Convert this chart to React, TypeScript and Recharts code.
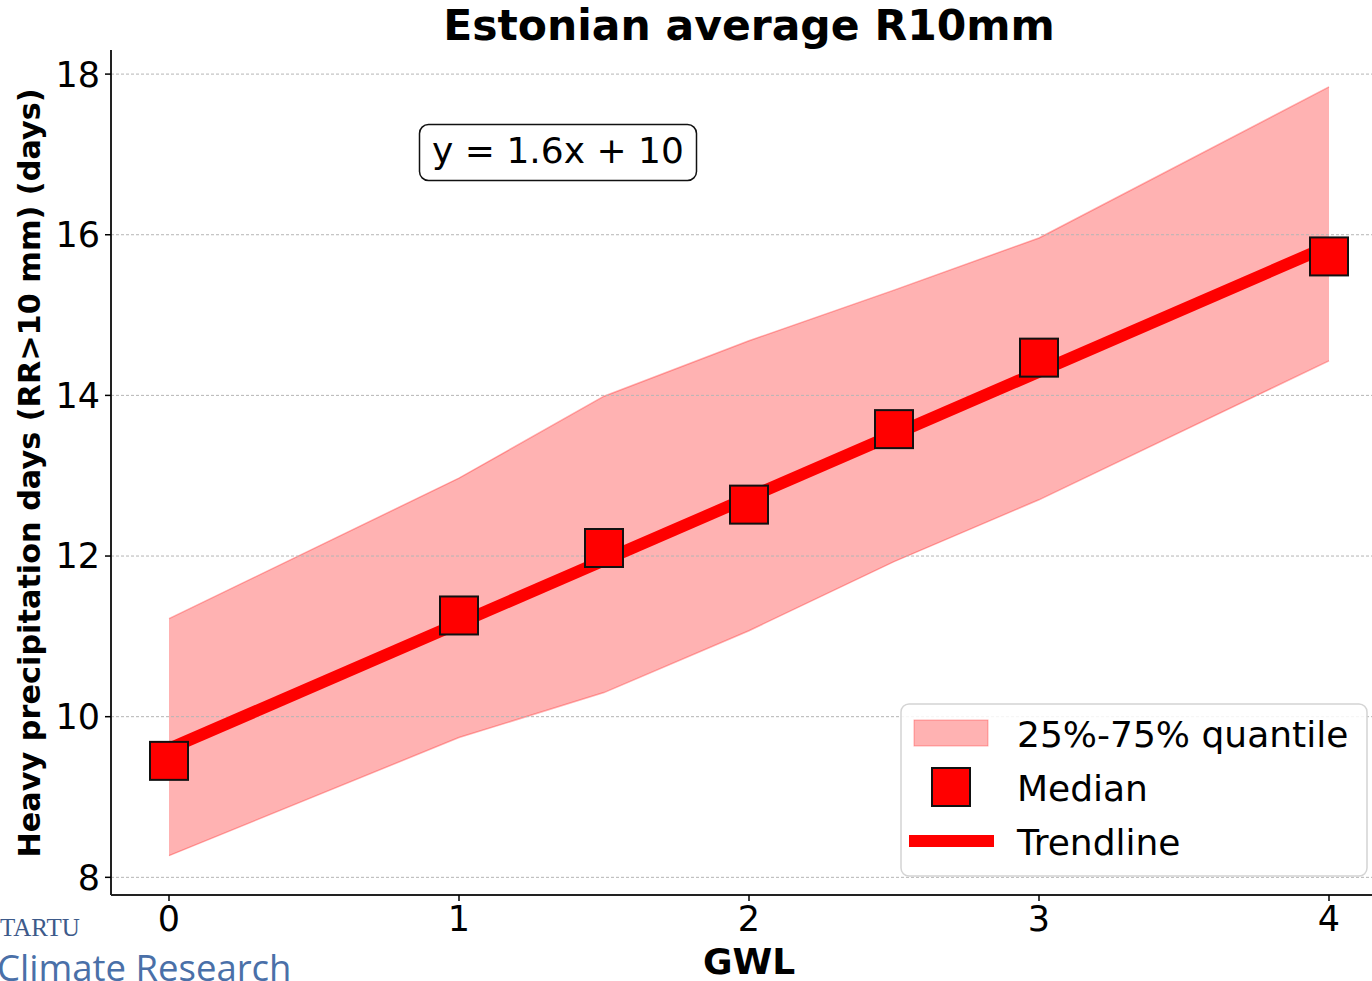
import { ComposedChart, Area, Line, XAxis, YAxis, ReferenceLine, Legend } from "recharts";

const gwl = [0, 1, 1.5, 2, 2.5, 3, 4];
const median = [9.45, 11.26, 12.1, 12.64, 13.58, 14.47, 15.73];
const q25 = [8.27, 9.74, 10.3, 11.07, 11.93, 12.7, 14.43];
const q75 = [11.22, 12.97, 13.99, 14.68, 15.31, 15.96, 17.84];
// trendline read at its two ends
const trend = [9.6, null, null, null, null, null, 15.86];

const xTicks = [0, 1, 2, 3, 4];
const yTicks = [8, 10, 12, 14, 16, 18];
const legendLabels = ["25%-75% quantile", "Median", "Trendline"];

const rows = gwl.map((x, i) => ({
  x,
  band: [q25[i], q75[i]],
  median: median[i],
  trend: trend[i],
}));

const FONT = "'DejaVu Sans', sans-serif";
const RED = "#ff0000";

function Square(props: any) {
  const { cx, cy, index } = props;
  if (cx == null || cy == null) return <g key={`sq-${index}`} />;
  return (
    <rect key={`sq-${index}`} x={cx - 19} y={cy - 19} width={38} height={38} fill={RED} stroke="#111" strokeWidth={2} />
  );
}

function LegendBox() {
  return (
    <svg width={468} height={174} style={{ display: "block", fontFamily: FONT }}>
      <rect x={1} y={1} width={466} height={172} rx={8} fill="#fff" fillOpacity={0.85} stroke="#d4d4d4" strokeWidth={1.5} />
      <rect x={14} y={17} width={74} height={26} fill={RED} fillOpacity={0.3} stroke={RED} strokeOpacity={0.3} />
      <rect x={32} y={65} width={38} height={38} fill={RED} stroke="#111" strokeWidth={2} />
      <line x1={9} x2={94} y1={138} y2={138} stroke={RED} strokeWidth={12} />
      {legendLabels.map((t, i) => (
        <text key={t} x={117} y={44 + i * 54} fontSize={36} fill="#000">
          {t}
        </text>
      ))}
    </svg>
  );
}

export default function App() {
  return (
    <div style={{ position: "relative", width: 1372, height: 981, overflow: "hidden", fontFamily: FONT, background: "#fff" }}>
      <style>{`body{margin:0;overflow:hidden}`}</style>
      <ComposedChart width={1400} height={981} data={rows} margin={{ top: 50, right: 13, bottom: 0, left: 0 }}>
        <XAxis
          dataKey="x"
          type="number"
          domain={[-0.2, 4.2]}
          ticks={xTicks}
          allowDataOverflow
          height={86}
          tickSize={6}
          tickMargin={5}
          tick={{ fill: "#000", fontSize: 35, fontFamily: FONT }}
          tickLine={{ stroke: "#000", strokeWidth: 1.5 }}
          axisLine={{ stroke: "#222", strokeWidth: 2 }}
        />
        <XAxis xAxisId="top" orientation="top" type="number" dataKey="x" domain={[-0.2, 4.2]} height={0} tick={false} tickLine={false} axisLine={{ stroke: "#222", strokeWidth: 2 }} />
        <YAxis
          type="number"
          domain={[7.78, 18.3]}
          ticks={yTicks}
          allowDataOverflow
          width={111}
          tickSize={6}
          tickMargin={5}
          tick={{ fill: "#000", fontSize: 35, fontFamily: FONT }}
          tickLine={{ stroke: "#000", strokeWidth: 1.5 }}
          axisLine={{ stroke: "#222", strokeWidth: 2 }}
        />
        <Area
          type="linear"
          dataKey="band"
          fill={RED}
          fillOpacity={0.3}
          stroke={RED}
          strokeOpacity={0.3}
          strokeWidth={1.5}
          isAnimationActive={false}
        />
        {yTicks.map((v) => (
          <ReferenceLine key={v} y={v} stroke="#b5b5b5" strokeDasharray="3 2" strokeWidth={1} />
        ))}
        <Line type="linear" dataKey="trend" connectNulls stroke={RED} strokeWidth={12} dot={false} activeDot={false} isAnimationActive={false} />
        <Line type="linear" dataKey="median" stroke="none" dot={Square} activeDot={false} isAnimationActive={false} />
        <Legend
          layout="vertical"
          align="center"
          verticalAlign="middle"
          content={() => <LegendBox />}
          wrapperStyle={{ left: 900, top: 703, width: 468, height: 174, bottom: "auto", right: "auto" }}
        />
      </ComposedChart>
      <svg width={1372} height={981} style={{ position: "absolute", left: 0, top: 0, pointerEvents: "none" }}>
        <text x={749} y={40} textAnchor="middle" fontSize={42.5} fontWeight="bold" fontFamily={FONT} fill="#000">
          Estonian average R10mm
        </text>
        <text x={749} y={974} textAnchor="middle" fontSize={36} fontWeight="bold" fontFamily={FONT} fill="#000">
          GWL
        </text>
        <text transform="translate(40,473) rotate(-90)" textAnchor="middle" fontSize={30.3} fontWeight="bold" fontFamily={FONT} fill="#000">
          Heavy precipitation days (RR&gt;10 mm) (days)
        </text>
        <rect x={419.5} y={124.5} width={277} height={56} rx={9} fill="#fff" stroke="#111" strokeWidth={1.5} />
        <text x={558} y={163} textAnchor="middle" fontSize={36} fontFamily={FONT} fill="#000">
          y = 1.6x + 10
        </text>
        <text x={0} y={936} fontSize={25} fontFamily="'Liberation Serif', serif" fill="#3d5a8a">
          TARTU
        </text>
        <text x={-3} y={981} fontSize={36.5} fontFamily="'Open Sans', sans-serif" fill="#4a70a8">
          Climate Research
        </text>
      </svg>
    </div>
  );
}
